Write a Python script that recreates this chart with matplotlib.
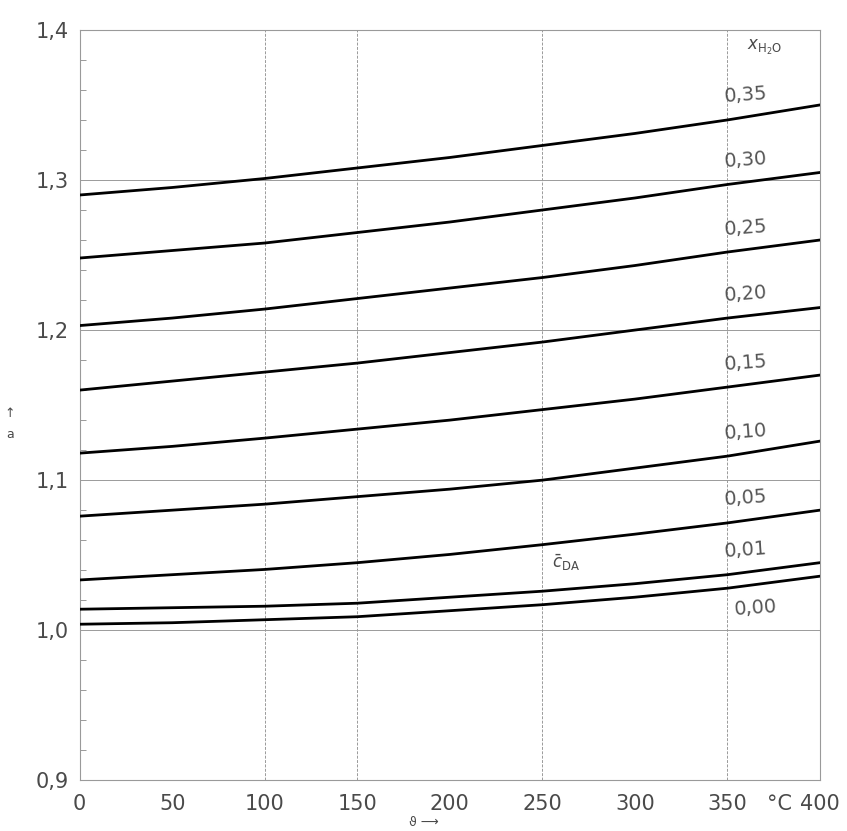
import matplotlib
matplotlib.use("Agg")
import matplotlib.pyplot as plt
from matplotlib.ticker import MultipleLocator

# temperature (°C)
temps = [0, 50, 100, 150, 200, 250, 300, 350, 400]

# water mole fraction series (labels) and values of a
x_h2o_labels = ["0,35", "0,30", "0,25", "0,20", "0,15", "0,10", "0,05", "0,01", "0,00"]
a_035 = [1.290, 1.295, 1.301, 1.308, 1.315, 1.323, 1.331, 1.340, 1.350]
a_030 = [1.248, 1.253, 1.258, 1.265, 1.272, 1.280, 1.288, 1.297, 1.305]
a_025 = [1.203, 1.208, 1.214, 1.221, 1.228, 1.235, 1.243, 1.252, 1.260]
a_020 = [1.160, 1.166, 1.172, 1.178, 1.185, 1.192, 1.200, 1.208, 1.215]
a_015 = [1.118, 1.1225, 1.128, 1.134, 1.140, 1.147, 1.154, 1.162, 1.170]
a_010 = [1.076, 1.080, 1.084, 1.089, 1.094, 1.100, 1.108, 1.116, 1.126]
a_005 = [1.0335, 1.037, 1.0405, 1.045, 1.0505, 1.057, 1.064, 1.0715, 1.080]
a_001 = [1.014, 1.015, 1.016, 1.018, 1.022, 1.026, 1.031, 1.037, 1.045]
a_000 = [1.004, 1.005, 1.007, 1.009, 1.013, 1.017, 1.022, 1.028, 1.036]
series = [a_035, a_030, a_025, a_020, a_015, a_010, a_005, a_001, a_000]

y_ticks = [0.9, 1.0, 1.1, 1.2, 1.3, 1.4]
y_tick_labels = ["0,9", "1,0", "1,1", "1,2", "1,3", "1,4"]
x_ticks = [0, 50, 100, 150, 200, 250, 300, 350, 400]
x_tick_labels = ["0", "50", "100", "150", "200", "250", "300", "350", "400"]
x_grid = [100, 150, 250, 350]
y_grid = [1.0, 1.1, 1.2, 1.3]

plt.rcParams['font.family'] = ['DejaVu Sans']
fig = plt.figure(figsize=(8.47, 8.31), dpi=100)
ax = fig.add_axes([0.094, 0.061, 0.874, 0.903])

txt_col = "#4a4a4a"
grid_col = "#9a9a9a"

for v in y_grid:
    ax.axhline(v, color=grid_col, lw=0.7, zorder=1)
for v in x_grid:
    ax.axvline(v, color=grid_col, lw=0.7, ls=(0, (3, 1.5)), zorder=1)

for ys in series:
    ax.plot(temps, ys, color="black", lw=2.0, zorder=3)

# curve labels (above the curve near right end, 0,00 below)
for lab, ys in zip(x_h2o_labels, series):
    if lab == "0,00":
        ax.text(365, ys[-2] - 0.006, lab, ha="center", va="top", fontsize=14,
                color="#555555", rotation=4)
    else:
        ax.text(360, ys[-2] + 0.009, lab, ha="center", va="bottom", fontsize=14,
                color="#555555", rotation=4)

ax.text(370, 1.388, r"$x_{\mathrm{H_2O}}$", ha="center", va="center", fontsize=12, color=txt_col)
ax.text(255, 1.045, r"$\bar{c}_{\mathrm{DA}}$", ha="left", va="center", fontsize=12, color=txt_col)

ax.set_xlim(0, 400)
ax.set_ylim(0.9, 1.4)
ax.set_yticks(y_ticks)
ax.set_yticklabels(y_tick_labels, fontsize=15, color=txt_col)
ax.yaxis.set_minor_locator(MultipleLocator(0.02))
ax.tick_params(axis="y", which="major", length=0, pad=8)
ax.tick_params(axis="y", which="minor", direction="in", length=4, color=grid_col, width=0.7)

ax.set_xticks(x_ticks)
ax.set_xticklabels(x_tick_labels, fontsize=15, color=txt_col)
ax.tick_params(axis="x", which="major", length=0, pad=10)
ax.annotate("°C", xy=(378, 0.9), xytext=(0, -10), textcoords="offset points",
            ha="center", va="top", fontsize=15, color=txt_col, annotation_clip=False)

for s in ax.spines.values():
    s.set_color(grid_col)
    s.set_linewidth(0.8)

# axis labels
fig.text(0.012, 0.49, "↑\na", ha="center", va="center", fontsize=9, color=txt_col, linespacing=1.8)
fig.text(0.5, 0.003, "ϑ ⟶", ha="center", va="bottom", fontsize=9, color=txt_col)

fig.savefig("out.png", dpi=100)
